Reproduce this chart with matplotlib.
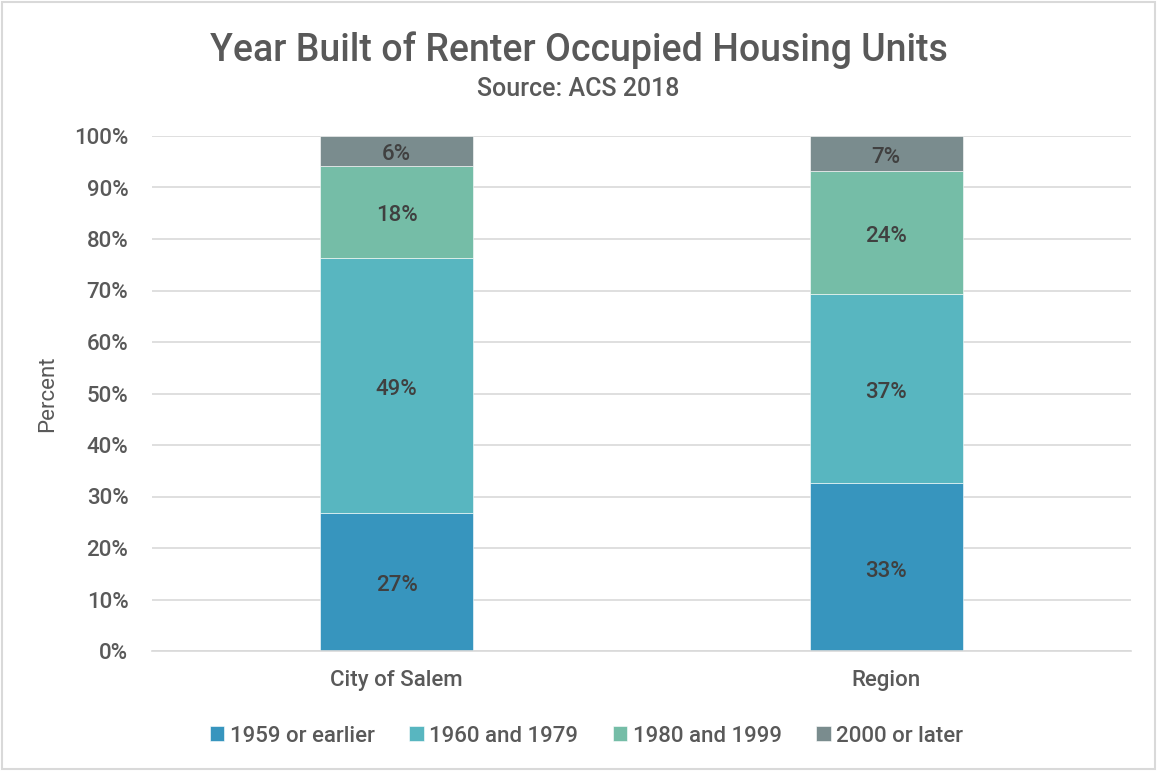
import matplotlib
matplotlib.use("Agg")
import matplotlib.pyplot as plt
from matplotlib.ticker import PercentFormatter
from matplotlib.patches import Rectangle

plt.rcParams["font.family"] = ["Roboto", "DejaVu Sans"]
plt.rcParams["font.weight"] = "medium"

categories = ["City of Salem", "Region"]
series_names = ["1959 or earlier", "1960 and 1979", "1980 and 1999", "2000 or later"]
pre_1959 = [26.8, 32.6]
y1960_1979 = [49.5, 36.7]
y1980_1999 = [17.9, 23.9]
post_2000 = [5.8, 6.8]
label_text = [["27%", "33%"], ["49%", "37%"], ["18%", "24%"], ["6%", "7%"]]

colors = ["#3795BE", "#58B6C0", "#75BDA7", "#7A8C8E"]
txt = "#404040"
axc = "#595959"

fig = plt.figure(figsize=(11.57, 7.71), dpi=100)
fig.patches.append(Rectangle((0.002, 0.002), 0.996, 0.996, transform=fig.transFigure,
                             fill=False, edgecolor="#D9D9D9", lw=1.5))
ax = fig.add_axes([152 / 1157, 1 - 651 / 771, (1131 - 152) / 1157, (651 - 136) / 771])

xs = list(range(len(categories)))
bottom = [0.0, 0.0]
for vals, name, col, labs in zip([pre_1959, y1960_1979, y1980_1999, post_2000],
                                 series_names, colors, label_text):
    bars = ax.bar(xs, vals, width=0.313, bottom=bottom, color=col, label=name,
                  edgecolor="white", linewidth=0.4)
    for b, v, bt, lab in zip(bars, vals, bottom, labs):
        ax.annotate(lab, (b.get_x() + b.get_width() / 2, bt + v / 2), xytext=(0, -4),
                    textcoords="offset pixels", ha="center", va="center",
                    fontsize=16, color=txt)
    bottom = [a + b for a, b in zip(bottom, vals)]

ax.set_xlim(-0.5, 1.5)
ax.set_ylim(0, 100)
ax.set_yticks(range(0, 101, 10))
ax.yaxis.set_major_formatter(PercentFormatter(decimals=0))
ax.grid(axis="y", color="#D9D9D9", lw=1.2)
ax.set_axisbelow(True)
for s in ["top", "right", "left"]:
    ax.spines[s].set_visible(False)
ax.spines["bottom"].set_color("#D9D9D9")
ax.spines["bottom"].set_linewidth(1.2)
ax.tick_params(axis="both", length=0, labelsize=16, colors=axc)
ax.tick_params(axis="y", pad=17)
ax.tick_params(axis="x", pad=14)
ax.set_xticks(xs)
ax.set_xticklabels(categories)
ax.set_ylabel("Percent", fontsize=16, color=axc)
ax.yaxis.set_label_coords(-0.096, 0.5)

fig.text(0.5, 1 - 50 / 771, "Year Built of Renter Occupied Housing Units", ha="center",
         va="center", fontsize=27, color=axc)
fig.text(0.5, 1 - 89 / 771, "Source: ACS 2018", ha="center", va="center", fontsize=18,
         color=axc)

fig.legend(loc="center", bbox_to_anchor=(0.507, 1 - 736 / 771), ncol=4, frameon=False,
           fontsize=16, labelcolor=axc, handlelength=0.65, handleheight=0.65,
           handletextpad=0.25, columnspacing=1.55)

fig.savefig("out.png", dpi=100)
